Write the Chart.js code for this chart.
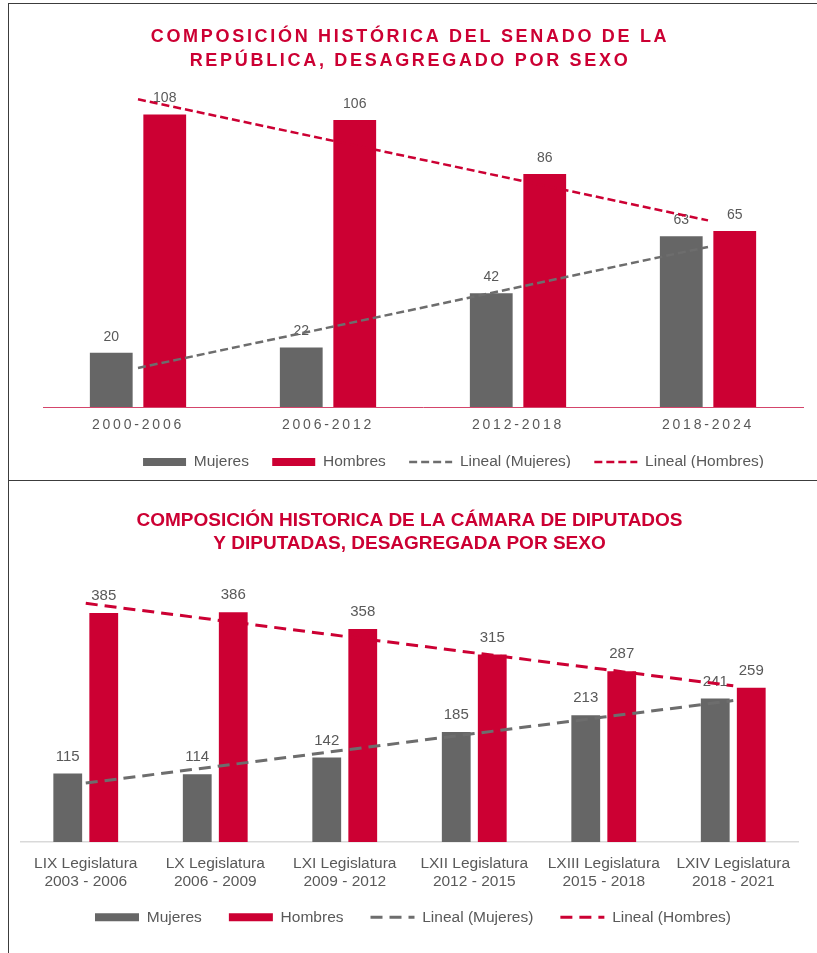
<!DOCTYPE html>
<html><head><meta charset="utf-8">
<script src="https://cdn.jsdelivr.net/npm/chart.js@4.4.1/dist/chart.umd.min.js"></script>
<style>
html,body{margin:0;padding:0;background:#fff;width:817px;height:953px;overflow:hidden;position:relative}
canvas{position:absolute}
.ln{position:absolute;background:#3c3c3c}
</style></head><body>
<div class="ln" style="left:8px;top:3px;width:809px;height:1px"></div>
<div class="ln" style="left:8px;top:3px;width:1px;height:950px"></div>
<div class="ln" style="left:8px;top:480px;width:809px;height:1px"></div>
<canvas id="c1" width="808" height="475" style="left:9px;top:5px"></canvas>
<canvas id="c2" width="808" height="472" style="left:9px;top:481px"></canvas>
<script>
// ---- Senado ----
const senadoPeriodos = ['2000-2006', '2006-2012', '2012-2018', '2018-2024'];
const senadoMujeres = [20, 22, 42, 63];
const senadoHombres = [108, 106, 86, 65];
const senadoTendMujeres = [14.4, 29.3, 44.2, 59.1];
const senadoTendHombres = [113.6, 98.7, 83.8, 68.9];

// ---- Cámara de Diputados ----
const camaraLegislaturas = ['LIX Legislatura', 'LX Legislatura', 'LXI Legislatura', 'LXII Legislatura', 'LXIII Legislatura', 'LXIV Legislatura'];
const camaraPeriodos = ['2003 - 2006', '2006 - 2009', '2009 - 2012', '2012 - 2015', '2015 - 2018', '2018 - 2021'];
const camaraMujeres = [115, 114, 142, 185, 213, 241];
const camaraHombres = [385, 386, 358, 315, 287, 259];
const camaraTendMujeres = [99.0, 126.7, 154.5, 182.2, 209.9, 237.6];
const camaraTendHombres = [401.0, 373.3, 345.5, 317.8, 290.1, 262.4];

const seriesNames = ['Mujeres', 'Hombres', 'Lineal (Mujeres)', 'Lineal (Hombres)'];

const GRAY = '#666666', RED = '#cc0033', TXT = '#595959';
Chart.defaults.font.family = "'Liberation Sans', Arial, sans-serif";
Chart.defaults.color = TXT;

const spacingPlugin = {
  id: 'spacing',
  beforeDraw(chart, args, opts) {
    const wrap = (obj, key, sp) => {
      if (!obj || !sp || obj['__w' + key]) return;
      const orig = obj[key];
      obj[key] = function (...a) {
        const c = chart.ctx; const prev = c.letterSpacing;
        c.letterSpacing = sp;
        try { return orig.apply(this, a); } finally { c.letterSpacing = prev; }
      };
      obj['__w' + key] = true;
    };
    wrap(chart.titleBlock, 'draw', opts.title);
    wrap(chart.scales.x, 'drawLabels', opts.ticks);
  }
};

const boxShift = {
  id: 'boxShift',
  afterLayout(chart, args, opts) {
    const l = chart.legend;
    if (l) { l.left += opts.dx || 0; l.right += opts.dx || 0; l.top += opts.dy || 0; l.bottom += opts.dy || 0; }
    const t = chart.titleBlock;
    if (t) { t.left += opts.titleDx || 0; t.right += opts.titleDx || 0; }
  }
};

const valueLabels = {
  id: 'valueLabels',
  beforeDatasetsDraw(chart, args, opts) {
    const ctx = chart.ctx;
    ctx.save();
    ctx.font = opts.size + "px 'Liberation Sans', Arial, sans-serif";
    ctx.fillStyle = TXT; ctx.textAlign = 'center'; ctx.textBaseline = 'middle';
    chart.data.datasets.forEach((ds, i) => {
      if (ds.type !== 'bar') return;
      chart.getDatasetMeta(i).data.forEach((bar, j) => {
        ctx.fillText(String(ds.data[j]), bar.x, bar.y - opts.offset);
      });
    });
    ctx.restore();
  }
};

function genLabels(chart) {
  const items = Chart.defaults.plugins.legend.labels.generateLabels(chart);
  items.forEach(it => {
    const ds = chart.data.datasets[it.datasetIndex];
    if (ds.type === 'line') {
      it.pointStyle = 'line'; it.lineDash = ds.borderDash; it.lineWidth = ds.borderWidth;
      it.strokeStyle = ds.borderColor; it.fillStyle = ds.borderColor; it.lineCap = 'butt';
    } else {
      it.pointStyle = 'rect'; it.lineWidth = 0; it.fillStyle = ds.backgroundColor;
    }
  });
  return items;
}

function makeDatasets(m, h, tm, th, cat, lw, dash) {
  return [
    { type: 'bar', label: seriesNames[0], data: m, backgroundColor: GRAY, borderWidth: 0, order: 1, categoryPercentage: cat, barPercentage: 0.8 },
    { type: 'bar', label: seriesNames[1], data: h, backgroundColor: RED, borderWidth: 0, order: 1, categoryPercentage: cat, barPercentage: 0.8 },
    { type: 'line', label: seriesNames[2], data: tm, borderColor: '#6d6d6d', backgroundColor: '#6d6d6d', borderWidth: lw, borderDash: dash, pointRadius: 0, pointHoverRadius: 0, fill: false, tension: 0, order: 0 },
    { type: 'line', label: seriesNames[3], data: th, borderColor: RED, backgroundColor: RED, borderWidth: lw, borderDash: dash, pointRadius: 0, pointHoverRadius: 0, fill: false, tension: 0, order: 0 }
  ];
}

new Chart(document.getElementById('c1'), {
  type: 'bar',
  data: { labels: senadoPeriodos, datasets: makeDatasets(senadoMujeres, senadoHombres, senadoTendMujeres, senadoTendHombres, 0.563, 2.5, [8, 4]) },
  options: {
    responsive: false, animation: false, events: [],
    layout: { padding: { left: 34, right: 14, top: 0, bottom: 0 } },
    scales: {
      x: { grid: { display: false, drawTicks: false }, border: { display: true, color: '#d4456b', width: 1 },
           ticks: { color: TXT, font: { size: 14, lineHeight: 1.2 }, padding: 9.6, maxRotation: 0, autoSkip: false } },
      y: { display: false, min: 0, max: 120 }
    },
    plugins: {
      title: { display: true, text: ['COMPOSICIÓN HISTÓRICA DEL SENADO DE LA', 'REPÚBLICA, DESAGREGADO POR SEXO'],
               color: RED, font: { size: 18, weight: 'bold', lineHeight: 1.294 }, padding: { top: 20.65, bottom: 9.75 } },
      legend: { position: 'bottom', maxHeight: 37,
                labels: { usePointStyle: true, pointStyleWidth: 43, boxHeight: 8, padding: 23.3, color: TXT, font: { size: 15.5 },
                          generateLabels: genLabels, sort: (a, b) => a.datasetIndex - b.datasetIndex } },
      tooltip: { enabled: false },
      spacing: { title: '2.7px', ticks: '2.8px' },
      boxShift: { dx: 30.5, dy: -12, titleDx: -13 },
      valueLabels: { size: 14, offset: 16 }
    }
  },
  plugins: [spacingPlugin, boxShift, valueLabels]
});

new Chart(document.getElementById('c2'), {
  type: 'bar',
  data: { labels: camaraLegislaturas.map((l, i) => [l, camaraPeriodos[i]]),
          datasets: makeDatasets(camaraMujeres, camaraHombres, camaraTendMujeres, camaraTendHombres, 0.556, 3, [12, 7]) },
  options: {
    responsive: false, animation: false, events: [],
    layout: { padding: { left: 12, right: 19, top: 0, bottom: 0 } },
    scales: {
      x: { grid: { display: false, drawTicks: false }, border: { display: true, color: '#d9d9d9', width: 1.5 },
           ticks: { color: TXT, font: { size: 15.5, lineHeight: 1.161 }, padding: 13, maxRotation: 0, autoSkip: false } },
      y: { display: false, min: 0, max: 450 }
    },
    plugins: {
      title: { display: true, text: ['COMPOSICIÓN HISTORICA DE LA CÁMARA DE DIPUTADOS', 'Y DIPUTADAS, DESAGREGADA POR SEXO'],
               color: RED, font: { size: 19, weight: 'bold', lineHeight: 1.25 }, padding: { top: 27.4, bottom: 18.3 } },
      legend: { position: 'bottom', maxHeight: 49,
                labels: { usePointStyle: true, pointStyleWidth: 44, boxHeight: 8, padding: 27, color: TXT, font: { size: 15.5 },
                          generateLabels: genLabels, sort: (a, b) => a.datasetIndex - b.datasetIndex } },
      tooltip: { enabled: false },
      boxShift: { dx: 3.5, dy: -21.5 },
      valueLabels: { size: 15, offset: 17 }
    }
  },
  plugins: [boxShift, valueLabels]
});
</script>
</body></html>
